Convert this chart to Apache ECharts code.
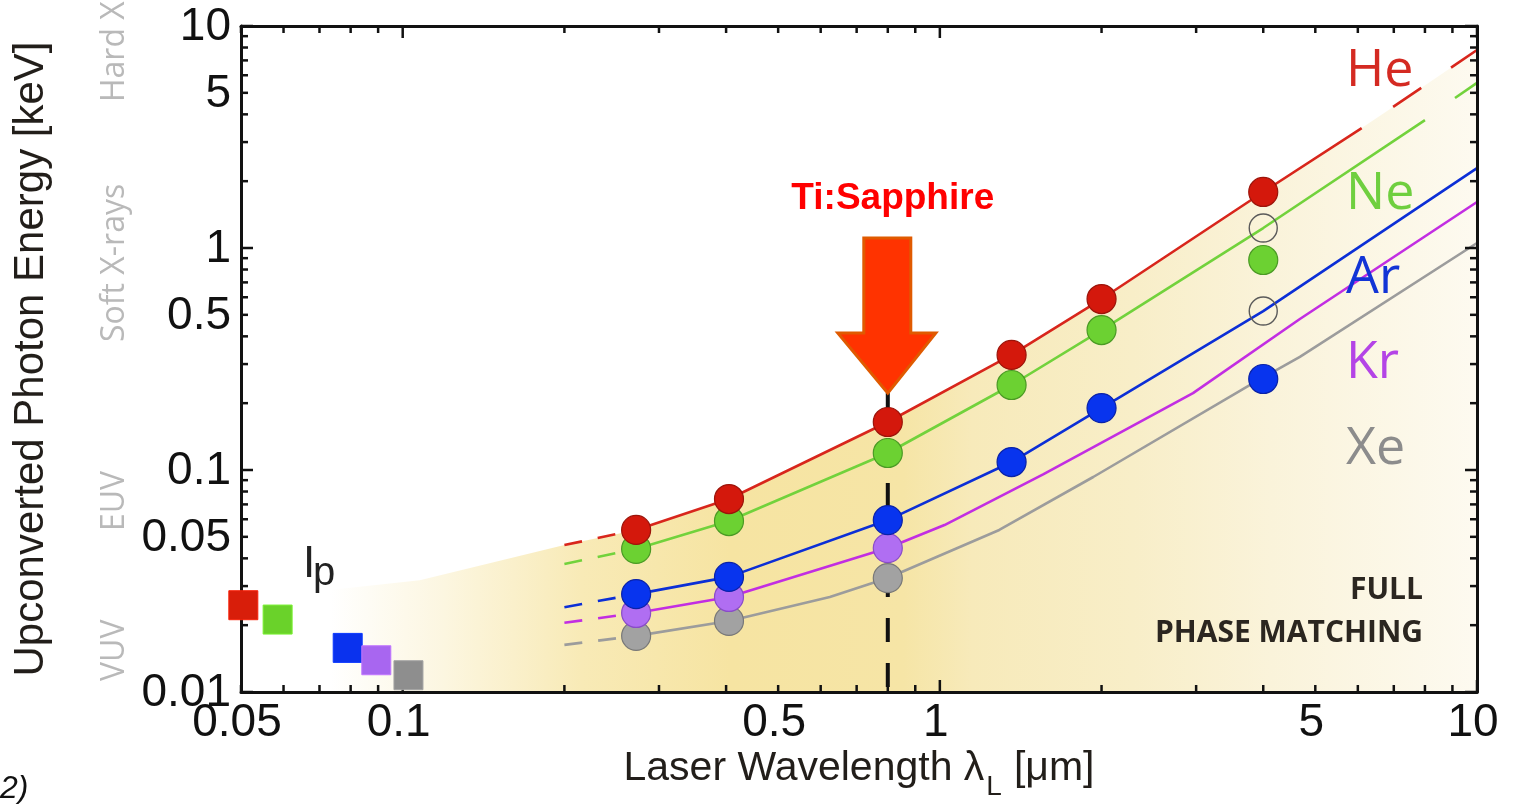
<!DOCTYPE html>
<html>
<head>
<meta charset="utf-8">
<script src="https://cdn.jsdelivr.net/npm/echarts@6/dist/echarts.min.js"></script>
<style>
html,body{margin:0;padding:0;background:#fff;}
#c{width:1524px;height:804px;}
</style>
</head>
<body>
<div id="c"></div>
<script>
// ---------------- data (wavelength in µm, energy in keV) ----------------
const gasNames = ['He', 'Ne', 'Ar', 'Kr', 'Xe'];

const heSolid     = [[0.272,0.0537],[0.405,0.074],[0.80,0.1645],[1.36,0.33],[2.0,0.589],[4.0,1.788],[6.1,3.47]];
const heDashStart = [[0.2,0.0459],[0.272,0.0537]];
const heDashEnd   = [[6.98,4.32],[10,7.8]];
const heDots      = [[0.272,0.0537],[0.405,0.074],[0.80,0.1645],[1.36,0.33],[2.0,0.589],[4.0,1.788]];
const heOpen      = [];

const neSolid     = [[0.272,0.0441],[0.405,0.0589],[0.80,0.1193],[1.36,0.2415],[2.0,0.427],[4.0,1.23],[8.0,3.77]];
const neDashStart = [[0.2,0.0377],[0.272,0.0441]];
const neDashEnd   = [[9.1,4.74],[10,5.54]];
const neDots      = [[0.272,0.0441],[0.405,0.0589],[0.80,0.1193],[1.36,0.2415],[2.0,0.427],[4.0,0.883]];
const neOpen      = [[4.0,1.23]];

const arSolid     = [[0.272,0.0276],[0.405,0.033],[0.80,0.0595],[1.36,0.1086],[2.0,0.19],[4.0,0.52],[10,2.29]];
const arDashStart = [[0.2,0.0241],[0.272,0.0276]];
const arDashEnd   = [];
const arDots      = [[0.272,0.0276],[0.405,0.033],[0.80,0.0595],[1.36,0.1086],[2.0,0.19],[4.0,0.257]];
const arOpen      = [[4.0,0.52]];

const krSolid     = [[0.272,0.0227],[0.405,0.0268],[0.80,0.0445],[1.02,0.0565],[1.56,0.0959],[2.96,0.222],[4.68,0.479],[10,1.612]];
const krDashStart = [[0.2,0.0205],[0.272,0.0227]];
const krDashEnd   = [];
const krDots      = [[0.272,0.0227],[0.405,0.0268],[0.80,0.0445]];
const krOpen      = [];

const xeSolid     = [[0.272,0.0179],[0.405,0.0209],[0.624,0.0268],[0.80,0.0326],[1.29,0.0537],[1.93,0.093],[3.83,0.2465],[4.68,0.323],[10,1.053]];
const xeDashStart = [[0.2,0.0163],[0.272,0.0179]];
const xeDashEnd   = [];
const xeDots      = [[0.272,0.0179],[0.405,0.0209],[0.80,0.0326]];
const xeOpen      = [];

// ionization potentials (wavelength µm, energy keV)
const ipWavelength = [0.0505, 0.0585, 0.0790, 0.0893, 0.1025];
const ipEnergy     = [0.0246, 0.0212, 0.0158, 0.0139, 0.0119];

// shaded region edge (left of the He curve)
const fillLeftEdge = [[0.0731,0.0288],[0.1076,0.0319]];

// Ti:Sapphire marker
const tiSapphireLine = [[0.8,0.222],[0.8,0.01]];

// axes
const xRange = [0.05, 10];
const yRange = [0.01, 10];
const xTickValues = [0.05,0.06,0.07,0.08,0.09,0.1,0.2,0.3,0.4,0.5,0.6,0.7,0.8,0.9,1,2,3,4,5,6,7,8,9,10];
const yTickValues = [0.01,0.02,0.03,0.04,0.05,0.06,0.07,0.08,0.09,0.1,0.2,0.3,0.4,0.5,0.6,0.7,0.8,0.9,1,2,3,4,5,6,7,8,9,10];
const xTickLabels = ['0.05','0.1','0.5','1','5','10'];
const yTickLabels = ['0.01','0.05','0.1','0.5','1','5','10'];

// ---------------- styles ----------------
const gasStyle = {
  He: {line:'#d8261c', dot:'#d4180c', border:'#9c140a', label:'#d42a22', square:'#d81e0a'},
  Ne: {line:'#72d23c', dot:'#6cd132', border:'#4a9a24', label:'#6fcf3f', square:'#6ad22a'},
  Ar: {line:'#0c2fd6', dot:'#0834ee', border:'#0a22a8', label:'#1234d6', square:'#0a32ee'},
  Kr: {line:'#c22ee2', dot:'#b06ef2', border:'#8a4cc8', label:'#b444e6', square:'#a866f0'},
  Xe: {line:'#9c9c9c', dot:'#a2a2a2', border:'#787878', label:'#8c8c8c', square:'#8e8e8e'}
};
const gasData = {
  He:{solid:heSolid, ds:heDashStart, de:heDashEnd, dots:heDots, open:heOpen},
  Ne:{solid:neSolid, ds:neDashStart, de:neDashEnd, dots:neDots, open:neOpen},
  Ar:{solid:arSolid, ds:arDashStart, de:arDashEnd, dots:arDots, open:arOpen},
  Kr:{solid:krSolid, ds:krDashStart, de:krDashEnd, dots:krDots, open:krOpen},
  Xe:{solid:xeSolid, ds:xeDashStart, de:xeDashEnd, dots:xeDots, open:xeOpen}
};

const TICK_FONT = '46px "Liberation Sans", Arial, sans-serif';
const isMajor = v => Math.abs(Math.log10(v) - Math.round(Math.log10(v))) < 1e-6;

const chart = echarts.init(document.getElementById('c'), null, {renderer:'canvas', width:1524, height:804});

const series = [];

// shaded background region
const fillEdge = fillLeftEdge.concat(heDashStart, heSolid.slice(1), heDashEnd);
series.push({
  type:'line', data:fillEdge, symbol:'none', silent:true, z:1,
  lineStyle:{width:0, opacity:0},
  areaStyle:{origin:'start', opacity:1, color:new echarts.graphic.LinearGradient(0,0,1,0,[
    {offset:0, color:'#ffffff'},
    {offset:0.1, color:'#fcf6e0'},
    {offset:0.22, color:'#f8eab6'},
    {offset:0.35, color:'#f6e4a2'},
    {offset:0.5, color:'#f6e5a6'},
    {offset:0.56, color:'#f7eaba'},
    {offset:0.7, color:'#f8eec8'},
    {offset:0.82, color:'#faf3da'},
    {offset:1, color:'#fdfaf0'}
  ])}
});

// dashed Ti:Sapphire vertical line
series.push({
  type:'line', data:tiSapphireLine, symbol:'none', silent:true, z:2,
  lineStyle:{color:'#111', width:4, type:[24,21]}
});

// curves (drawn heaviest gas first)
const order = ['Xe','Kr','Ar','Ne','He'];
order.forEach((g) => {
  const s = gasStyle[g], d = gasData[g];
  series.push({type:'line', data:d.solid, symbol:'none', silent:true, z:3, lineStyle:{color:s.line, width:2.6}});
  series.push({type:'line', data:d.ds, symbol:'none', silent:true, z:3, lineStyle:{color:s.line, width:2.6, type:[18,16]}});
  if (d.de.length) series.push({type:'line', data:d.de, symbol:'none', silent:true, z:3, lineStyle:{color:s.line, width:2.6, type:[34,36]}});
});

// axis ticks on all four sides
series.push({
  type:'custom', z:4, silent:true, clip:false,
  data:xTickValues.map(v => [v, yRange[0]]),
  renderItem:(params, api) => {
    const v = api.value(0);
    const b = api.coord([v, yRange[0]]), t = api.coord([v, yRange[1]]);
    const len = isMajor(v) ? 12 : 7;
    const st = {stroke:'#111', lineWidth:2.5};
    return {type:'group', children:[
      {type:'line', shape:{x1:b[0], y1:b[1], x2:b[0], y2:b[1]-len}, style:st},
      {type:'line', shape:{x1:t[0], y1:t[1], x2:t[0], y2:t[1]+len}, style:st}
    ]};
  }
});
series.push({
  type:'custom', z:4, silent:true, clip:false,
  data:yTickValues.map(v => [xRange[0], v]),
  renderItem:(params, api) => {
    const v = api.value(1);
    const l = api.coord([xRange[0], v]), r = api.coord([xRange[1], v]);
    const len = isMajor(v) ? 12 : 7;
    const st = {stroke:'#111', lineWidth:2.5};
    return {type:'group', children:[
      {type:'line', shape:{x1:l[0], y1:l[1], x2:l[0]+len, y2:l[1]}, style:st},
      {type:'line', shape:{x1:r[0], y1:r[1], x2:r[0]-len, y2:r[1]}, style:st}
    ]};
  }
});
// tick labels
series.push({
  type:'custom', z:4, silent:true, clip:false,
  data:xTickLabels.map(t => [parseFloat(t), yRange[0]]),
  renderItem:(params, api) => {
    const p = api.coord([api.value(0), yRange[0]]);
    return {type:'text', x:p[0]-4, y:p[1]+31, style:{text:xTickLabels[params.dataIndex], font:TICK_FONT, fill:'#111', textAlign:'center', textVerticalAlign:'middle'}};
  }
});
series.push({
  type:'custom', z:4, silent:true, clip:false,
  data:yTickLabels.map(t => [xRange[0], parseFloat(t)]),
  renderItem:(params, api) => {
    const p = api.coord([xRange[0], api.value(1)]);
    return {type:'text', x:p[0]-10, y:p[1]+1, style:{text:yTickLabels[params.dataIndex], font:TICK_FONT, fill:'#111', textAlign:'right', textVerticalAlign:'middle'}};
  }
});

// markers
order.forEach((g, i) => {
  const s = gasStyle[g], d = gasData[g];
  series.push({type:'scatter', data:d.dots, symbol:'circle', symbolSize:29, z:5+i, silent:true,
    itemStyle:{color:s.dot, borderColor:s.border, borderWidth:1.2, opacity:1}});
  if (d.open.length) series.push({type:'scatter', data:d.open, symbol:'circle', symbolSize:28, z:5+i, silent:true,
    itemStyle:{color:'rgba(0,0,0,0)', borderColor:'#5a5a5a', borderWidth:1.4, opacity:1}});
});

// ionization potential squares
gasNames.forEach((g, i) => {
  const s = gasStyle[g];
  series.push({type:'scatter', data:[[ipWavelength[i], ipEnergy[i]]], symbol:'rect', symbolSize:29, z:12+i, clip:false, silent:true,
    itemStyle:{color:s.square, borderColor:echarts.color.lift(s.square, -0.15), borderWidth:1, opacity:1}});
});

const boxAxis = (pos, type, range) => ({
  type:'log', logBase:10, min:range[0], max:range[1], position:pos, z:10,
  axisLine:{show:true, onZero:false, lineStyle:{color:'#111', width:3}},
  axisTick:{show:false}, axisLabel:{show:false}, splitLine:{show:false}, minorTick:{show:false}
});

chart.setOption({
  animation:false,
  backgroundColor:'#ffffff',
  grid:{left:241, right:47, top:26, bottom:112, show:false},
  xAxis:[boxAxis('bottom','x',xRange), boxAxis('top','x',xRange)],
  yAxis:[boxAxis('left','y',yRange), boxAxis('right','y',yRange)],
  series:series
});

// ---------------- annotations ----------------
const mctx = document.createElement('canvas').getContext('2d');
const tw = (font, s) => { mctx.font = font; return mctx.measureText(s).width; };

const graphics = [];
const txt = (x, y, text, font, fill, align, vAlign, rotation) => ({
  type:'text', x:x, y:y, rotation:rotation || 0, z:100, silent:true,
  style:{text:text, font:font, fill:fill, textAlign:align || 'left', textVerticalAlign:vAlign || 'middle'}
});

// y axis title
graphics.push(txt(31, 359, 'Upconverted Photon Energy [keV]', '42px "Liberation Sans", Arial, sans-serif', '#221e1a', 'center', 'middle', Math.PI/2));

// x axis title with subscript
const XT_FONT = '41px "Liberation Sans", Arial, sans-serif';
const XS_FONT = '28px "Liberation Sans", Arial, sans-serif';
const p1 = 'Laser Wavelength \u03bb', p2 = 'L', p3 = '[\u03bcm]';
const w1 = tw(XT_FONT, p1), w2 = tw(XS_FONT, p2), w3 = tw(XT_FONT, p3);
const total = w1 + 2 + w2 + 12 + w3;
const xc = chart.convertToPixel({xAxisIndex:0}, Math.sqrt(xRange[0]*xRange[1]));
let xs = xc - total/2;
graphics.push(txt(xs, 769, p1, XT_FONT, '#221e1a', 'left'));
graphics.push(txt(xs + w1 + 2, 787, p2, XS_FONT, '#221e1a', 'left'));
graphics.push(txt(xs + w1 + 2 + w2 + 12, 769, p3, XT_FONT, '#221e1a', 'left'));

// spectral region labels (rotated, grey)
const BAND_FONT = '32px "Open Sans", sans-serif';
graphics.push(txt(115, 102, 'Hard X-rays', BAND_FONT, '#b9b9b9', 'left', 'middle', Math.PI/2));
graphics.push(txt(115, 342, 'Soft X-rays', BAND_FONT, '#b9b9b9', 'left', 'middle', Math.PI/2));
graphics.push(txt(115, 531, 'EUV', BAND_FONT, '#b9b9b9', 'left', 'middle', Math.PI/2));
graphics.push(txt(115, 681, 'VUV', BAND_FONT, '#b9b9b9', 'left', 'middle', Math.PI/2));

// gas labels
const GAS_FONT = '52px "Open Sans", sans-serif';
const gasLabelBaseline = {He:90, Ne:213, Ar:297, Kr:382, Xe:468};
gasNames.forEach(g => graphics.push(txt(1346, gasLabelBaseline[g]-19, g, GAS_FONT, gasStyle[g].label, 'left')));

// Ip label
graphics.push(txt(303, 565, 'I', '44px "Liberation Sans", Arial, sans-serif', '#222', 'left'));
graphics.push(txt(313, 574, 'p', '40px "Liberation Sans", Arial, sans-serif', '#222', 'left'));

// FULL PHASE MATCHING
graphics.push(txt(1423, 590, 'FULL', 'bold 30px "Open Sans", sans-serif', '#2b2620', 'right'));
graphics.push(txt(1423, 633, 'PHASE MATCHING', 'bold 30px "Open Sans", sans-serif', '#2b2620', 'right'));

// Ti:Sapphire arrow + label
const tip = chart.convertToPixel({xAxisIndex:0, yAxisIndex:0}, tiSapphireLine[0]);
const tx = tip[0], ty = tip[1];
graphics.push({
  type:'polygon', z:90, silent:true,
  shape:{points:[[tx-24, ty-155],[tx+23, ty-155],[tx+23, ty-60],[tx+48, ty-60],[tx, ty],[tx-50, ty-60],[tx-24, ty-60]]},
  style:{fill:'#ff3300', stroke:'#e05a00', lineWidth:3, lineJoin:'miter'}
});
graphics.push(txt(tx+5, ty-194, 'Ti:Sapphire', 'bold 37px "Liberation Sans", Arial, sans-serif', '#ff0000', 'center'));

// panel index
graphics.push(txt(0, 789, '2)', 'italic 32px "Liberation Sans", Arial, sans-serif', '#111', 'left'));

chart.setOption({graphic:graphics});
</script>
</body>
</html>
